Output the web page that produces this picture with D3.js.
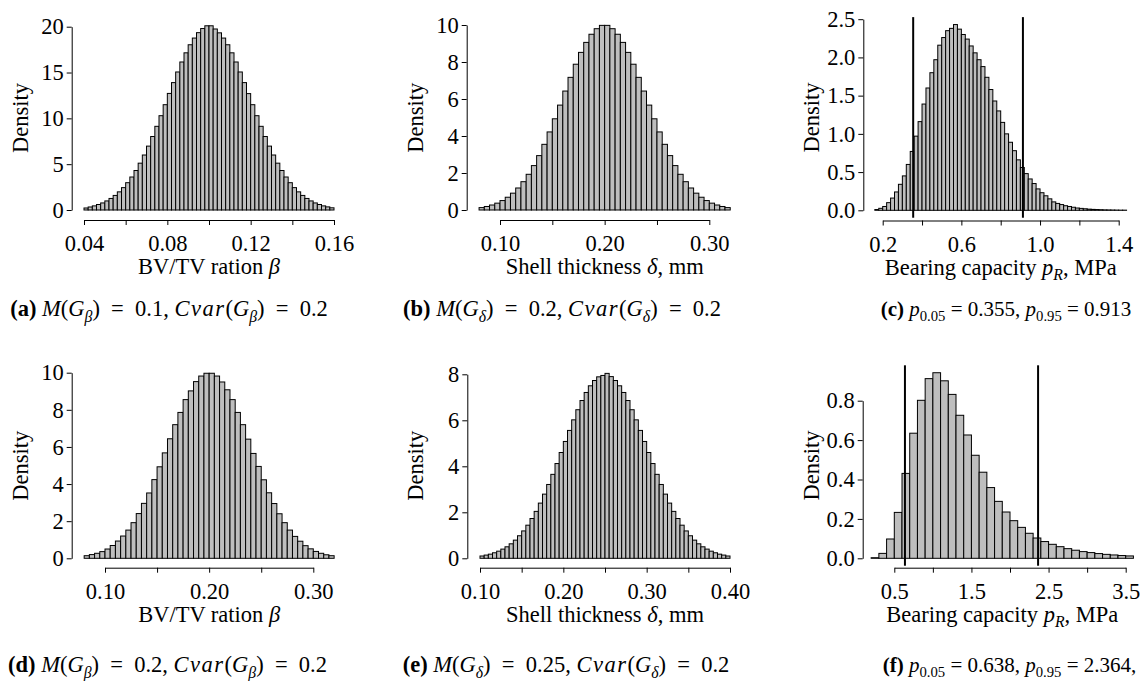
<!DOCTYPE html>
<html>
<head>
<meta charset="utf-8">
<script src="https://cdn.jsdelivr.net/npm/d3@7"></script>
<style>
  body { margin: 0; background: #fff; }
  svg text { font-family: "Liberation Serif", "Times New Roman", serif; fill: #000; white-space: pre; }
</style>
</head>
<body>
<svg id="chart" width="1144" height="681"></svg>
<script>
// Histogram densities, one value per bin (left to right)
const densA = [0.22, 0.33, 0.45, 0.60, 0.77, 0.99, 1.26, 1.59, 1.98, 2.44, 2.98, 3.60, 4.31, 5.11, 6.00,
  6.97, 8.02, 9.13, 10.29, 11.49, 12.72, 13.90, 15.06, 16.15, 17.15, 18.03, 18.76, 19.35, 19.80, 20.10,
  20.10, 19.75, 19.33, 18.76, 18.03, 17.15, 16.15, 15.06, 13.90, 12.70, 11.49, 10.29, 9.13, 8.02, 6.97,
  6.00, 5.11, 4.31, 3.60, 2.98, 2.44, 1.98, 1.59, 1.26, 0.99, 0.77, 0.60, 0.45, 0.34, 0.24];
const densB = [0.13, 0.19, 0.27, 0.37, 0.51, 0.69, 0.91, 1.19, 1.53, 1.93, 2.40, 2.94, 3.55, 4.22, 4.93, 5.67,
  6.43, 7.17, 7.88, 8.52, 9.06, 9.50, 9.80, 9.98, 9.98, 9.80, 9.50, 9.06, 8.52, 7.88, 7.17, 6.43,
  5.67, 4.93, 4.22, 3.55, 2.94, 2.40, 1.93, 1.53, 1.19, 0.91, 0.69, 0.51, 0.37, 0.27, 0.19, 0.13];
const densC = [0.01, 0.026, 0.05, 0.10, 0.16, 0.24, 0.34, 0.45, 0.60, 0.77,
  0.97, 1.16, 1.39, 1.60, 1.80, 1.97, 2.16, 2.26, 2.35, 2.38,
  2.43, 2.37, 2.30, 2.24, 2.15, 2.06, 1.97, 1.88, 1.74, 1.58,
  1.43, 1.30, 1.15, 1.00, 0.89, 0.78, 0.66, 0.56, 0.48, 0.41,
  0.35, 0.28, 0.23, 0.19, 0.15, 0.11, 0.09, 0.075, 0.06, 0.05,
  0.04, 0.03, 0.025, 0.02, 0.015, 0.012, 0.01, 0.008, 0.006, 0.005,
  0.004, 0.003, 0.002, 0.002];
const densD = [0.14, 0.20, 0.27, 0.36, 0.50, 0.69, 0.93, 1.20, 1.52, 1.92, 2.41, 2.96, 3.52, 4.24, 4.93, 5.68,
  6.44, 7.20, 7.86, 8.55, 9.02, 9.52, 9.82, 9.97, 9.97, 9.82, 9.50, 9.08, 8.55, 7.86, 7.20, 6.42,
  5.65, 4.95, 4.23, 3.53, 2.95, 2.40, 1.92, 1.52, 1.18, 0.92, 0.68, 0.51, 0.37, 0.27, 0.19, 0.14];
const densE = [0.10, 0.14, 0.18, 0.24, 0.31, 0.40, 0.50, 0.63, 0.79, 0.98, 1.19, 1.44, 1.73, 2.04, 2.40,
  2.79, 3.21, 3.65, 4.12, 4.60, 5.08, 5.56, 6.02, 6.46, 6.86, 7.21, 7.50, 7.73, 7.89, 7.95,
  8.04, 7.90, 7.73, 7.50, 7.21, 6.86, 6.46, 6.02, 5.56, 5.08, 4.60, 4.12, 3.65, 3.21, 2.79,
  2.40, 2.04, 1.73, 1.44, 1.19, 0.98, 0.79, 0.63, 0.50, 0.40, 0.31, 0.24, 0.18, 0.14, 0.10];
const densF = [0.003, 0.025, 0.098, 0.233, 0.431, 0.635, 0.802, 0.912, 0.942, 0.901,
  0.832, 0.726, 0.626, 0.523, 0.437, 0.359, 0.289, 0.235, 0.191, 0.157,
  0.127, 0.103, 0.085, 0.071, 0.059, 0.049, 0.041, 0.034, 0.029, 0.024,
  0.020, 0.017, 0.014, 0.012];

// first bin edge and bin width of each panel (a..f)
const binStart = [0.04, 0.08, 0.16, 0.08, 0.10, 0.2];
const binWidth = [0.002, 0.005, 0.02, 0.005, 0.005, 0.1];

// quantile lines
const quantC = [0.355, 0.913];
const quantF = [0.638, 2.364];

// ticks and tick labels
const xTicksA = [0.04, 0.06, 0.08, 0.10, 0.12, 0.14, 0.16];
const xLabelsA = ["0.04", "", "0.08", "", "0.12", "", "0.16"];
const xTicksB = [0.10, 0.15, 0.20, 0.25, 0.30];
const xLabelsB = ["0.10", "", "0.20", "", "0.30"];
const xTicksC = [0.2, 0.4, 0.6, 0.8, 1.0, 1.2, 1.4];
const xLabelsC = ["0.2", "", "0.6", "", "1.0", "", "1.4"];
const xTicksE = [0.10, 0.15, 0.20, 0.25, 0.30, 0.35, 0.40];
const xLabelsE = ["0.10", "", "0.20", "", "0.30", "", "0.40"];
const xTicksF = [0.5, 1.0, 1.5, 2.0, 2.5, 3.0, 3.5];
const xLabelsF = ["0.5", "", "1.5", "", "2.5", "", "3.5"];
const yTicksA = [0, 5, 10, 15, 20];
const yLabelsA = ["0", "5", "10", "15", "20"];
const yTicksB = [0, 2, 4, 6, 8, 10];
const yLabelsB = ["0", "2", "4", "6", "8", "10"];
const yTicksC = [0, 0.5, 1.0, 1.5, 2.0, 2.5];
const yLabelsC = ["0.0", "0.5", "1.0", "1.5", "2.0", "2.5"];
const yTicksE = [0, 2, 4, 6, 8];
const yLabelsE = ["0", "2", "4", "6", "8"];
const yTicksF = [0, 0.2, 0.4, 0.6, 0.8];
const yLabelsF = ["0.0", "0.2", "0.4", "0.6", "0.8"];

// axis titles and captions as rich-text pieces: [text, flags] (i italic, b bold, s subscript, w wide)
const titleBeta = [["BV/TV ration "], ["β", "i"]];
const titleDelta = [["Shell thickness "], ["δ", "i"], [", mm"]];
const titleP = [["Bearing capacity "], ["p", "i"], ["R", "is"], [", MPa"]];
const capA = [["(a)", "b"], [" "], ["M", "i"], ["("], ["G", "i"], ["β", "is"], [")\u2002=\u20020.1, "], ["Cvar", "iw"], ["("], ["G", "i"], ["β", "is"], [")\u2002=\u20020.2"]];
const capB = [["(b)", "b"], [" "], ["M", "i"], ["("], ["G", "i"], ["δ", "is"], [")\u2002=\u20020.2, "], ["Cvar", "iw"], ["("], ["G", "i"], ["δ", "is"], [")\u2002=\u20020.2"]];
const capC = [["(c)", "b"], [" "], ["p", "i"], ["0.05", "s"], [" = 0.355, "], ["p", "i"], ["0.95", "s"], [" = 0.913"]];
const capD = [["(d)", "b"], [" "], ["M", "i"], ["("], ["G", "i"], ["β", "is"], [")\u2002=\u20020.2, "], ["Cvar", "iw"], ["("], ["G", "i"], ["β", "is"], [")\u2002=\u20020.2"]];
const capE = [["(e)", "b"], [" "], ["M", "i"], ["("], ["G", "i"], ["δ", "is"], [")\u2002=\u20020.25, "], ["Cvar", "iw"], ["("], ["G", "i"], ["δ", "is"], [")\u2002=\u20020.2"]];
const capF = [["(f)", "b"], [" "], ["p", "i"], ["0.05", "s"], [" = 0.638, "], ["p", "i"], ["0.95", "s"], [" = 2.364,"]];

// layout (pixels): where first/last tick sit, axis positions, caption placement
const panels = [
  { vals: densA, start: binStart[0], step: binWidth[0], xt: xTicksA, xl: xLabelsA, yt: yTicksA, yl: yLabelsA,
    xPx: [84, 334], yPx: [210, 26.7], axX: 71.7, axY: 220, title: titleBeta, cap: capA, capX: 169, capY: 316, capS: 22.5, q: [] },
  { vals: densB, start: binStart[1], step: binWidth[1], xt: xTicksB, xl: xLabelsB, yt: yTicksB, yl: yLabelsB,
    xPx: [500, 709.3], yPx: [210, 25], axX: 466.7, axY: 220, title: titleDelta, cap: capB, capX: 562, capY: 316, capS: 22.5, q: [] },
  { vals: densC, start: binStart[2], step: binWidth[2], xt: xTicksC, xl: xLabelsC, yt: yTicksC, yl: yLabelsC,
    xPx: [882.7, 1118.7], yPx: [210.3, 19.2], axX: 863.3, axY: 220.5, title: titleP, cap: capC, capX: 1006, capY: 316, capS: 21, q: quantC },
  { vals: densD, start: binStart[3], step: binWidth[3], xt: xTicksB, xl: xLabelsB, yt: yTicksB, yl: yLabelsB,
    xPx: [105, 313.3], yPx: [558.3, 372.7], axX: 71.7, axY: 567.7, title: titleBeta, cap: capD, capX: 167.5, capY: 672, capS: 22.5, q: [] },
  { vals: densE, start: binStart[4], step: binWidth[4], xt: xTicksE, xl: xLabelsE, yt: yTicksE, yl: yLabelsE,
    xPx: [480, 730], yPx: [558.3, 374.3], axX: 467.3, axY: 567.7, title: titleDelta, cap: capE, capX: 566, capY: 672, capS: 22.5, q: [] },
  { vals: densF, start: binStart[5], step: binWidth[5], xt: xTicksF, xl: xLabelsF, yt: yTicksF, yl: yLabelsF,
    xPx: [894.3, 1125.7], yPx: [558.3, 400.7], axX: 862.7, axY: 567.7, title: titleP, cap: capF, capX: 1009.5, capY: 672, capS: 21, q: quantF },
];

const fontSize = 22.5;

const svg = d3.select("#chart");

function rich(text, pieces, size) {
  let shifted = false;
  const off = size * 0.25;
  pieces.forEach(([t, f = ""]) => {
    const ts = text.append("tspan").text(t);
    if (f.includes("i")) ts.attr("font-style", "italic");
    if (f.includes("b")) ts.attr("font-weight", "bold");
    if (f.includes("w")) ts.attr("letter-spacing", 1.5);
    if (f.includes("s")) {
      ts.attr("font-size", size * 0.7);
      if (!shifted) { ts.attr("dy", off); shifted = true; }
    } else if (shifted) {
      ts.attr("dy", -off); shifted = false;
    }
  });
}

panels.forEach(p => {
  const g = svg.append("g");
  const x = d3.scaleLinear().domain([p.xt[0], p.xt[p.xt.length - 1]]).range(p.xPx);
  const y = d3.scaleLinear().domain([p.yt[0], p.yt[p.yt.length - 1]]).range(p.yPx);
  const bins = p.vals.map((v, i) => ({ x0: p.start + i * p.step, x1: p.start + (i + 1) * p.step, v }));
  const yMax = d3.max(p.vals);

  g.append("g").selectAll("rect")
    .data(bins)
    .join("rect")
      .attr("x", d => x(d.x0))
      .attr("width", d => x(d.x1) - x(d.x0))
      .attr("y", d => y(d.v))
      .attr("height", d => y(0) - y(d.v))
      .attr("fill", "#bebebe")
      .attr("stroke", "#000")
      .attr("stroke-width", 1);

  // quantile lines span the whole plot region (R's 4% extension)
  g.selectAll("line.q")
    .data(p.q)
    .join("line")
      .attr("class", "q")
      .attr("x1", d => x(d)).attr("x2", d => x(d))
      .attr("y1", y(yMax * 1.04)).attr("y2", y(-yMax * 0.04))
      .attr("stroke", "#000")
      .attr("stroke-width", 2);

  const xAxis = d3.axisBottom(x).tickValues(p.xt).tickFormat((d, i) => p.xl[i]).tickSize(5).tickSizeOuter(0);
  g.append("g")
    .attr("transform", `translate(0,${p.axY})`)
    .call(xAxis)
    .attr("font-size", fontSize).attr("font-family", null)
    .call(a => a.selectAll("text").attr("dy", null).attr("y", 31));

  const yAxis = d3.axisLeft(y).tickValues(p.yt).tickFormat((d, i) => p.yl[i]).tickSize(5).tickPadding(3).tickSizeOuter(0);
  g.append("g")
    .attr("transform", `translate(${p.axX},0)`)
    .call(yAxis)
    .attr("font-size", fontSize).attr("font-family", null);

  g.append("text")
    .attr("transform", `translate(${p.axX - 44},${y(yMax / 2)}) rotate(-90)`)
    .attr("text-anchor", "middle")
    .attr("font-size", fontSize)
    .text("Density");

  const mid = p.start + p.vals.length * p.step / 2;
  const title = g.append("text")
    .attr("x", x(mid))
    .attr("y", p.axY + 54)
    .attr("text-anchor", "middle")
    .attr("font-size", fontSize);
  rich(title, p.title, fontSize);

  const cap = g.append("text")
    .attr("x", p.capX)
    .attr("y", p.capY)
    .attr("text-anchor", "middle")
    .attr("font-size", p.capS);
  rich(cap, p.cap, p.capS);
});
</script>
</body>
</html>
